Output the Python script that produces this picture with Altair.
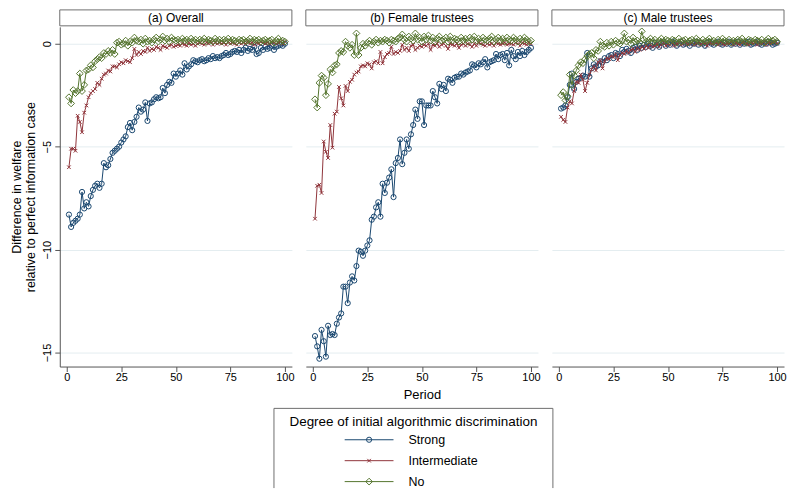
import altair as alt
import pandas as pd

FONT = "Liberation Sans"

periods = list(range(1, 101))
series_names = ["Strong", "Intermediate", "No"]
panel_keys = ["overall", "female", "male"]
panel_titles = ["(a) Overall", "(b) Female trustees", "(c) Male trustees"]
x_ticks = [0, 25, 50, 75, 100]
y_ticks = [0, -5, -10, -15]

overall_strong = [
    -8.3, -8.9, -8.7, -8.6, -8.5, -8.3, -7.2, -8.0, -7.7, -7.9,
    -7.4, -7.1, -6.9, -6.8, -7.0, -6.8, -5.8, -6.0, -5.9, -5.6,
    -5.3, -5.2, -5.1, -5.0, -4.8, -4.65, -4.5, -4.05, -3.85, -4.2,
    -3.8, -3.55, -3.1, -3.3, -3.2, -2.85, -3.75, -2.9, -2.85, -2.7,
    -2.6, -2.65, -2.6, -2.15, -2.4, -2.0, -1.85, -1.9, -1.45, -1.6,
    -1.45, -1.3, -1.5, -0.95, -1.25, -1.1, -1.0, -0.8, -0.85, -0.9,
    -0.8, -0.75, -0.85, -0.8, -0.7, -0.75, -0.6, -0.7, -0.65, -0.7,
    -0.6, -0.55, -0.45, -0.55, -0.5, -0.4, -0.35, -0.4, -0.3, -0.45,
    -0.3, -0.2, -0.35, -0.25, -0.3, -0.15, -0.5, -0.45, -0.2, -0.3,
    -0.15, -0.25, -0.2, -0.1, -0.3, -0.15, -0.1, -0.05, -0.1, 0.0,
]
overall_intermediate = [
    -6.0, -5.1, -5.1, -5.2, -3.5, -3.8, -4.3, -3.35, -3.0, -2.6,
    -2.4, -2.3, -2.2, -1.9, -2.0, -1.7, -1.5, -1.45, -1.3, -1.35,
    -1.1, -1.1, -1.15, -1.0, -0.9, -0.95, -0.8, -0.85, -0.9, -0.7,
    -0.25, -0.55, -0.4, -0.5, -0.35, -0.4, -0.2, -0.35, -0.25, -0.3,
    -0.15, -0.2, -0.3, -0.1, -0.15, -0.2, -0.1, -0.05, -0.15, -0.1,
    -0.05, -0.1, 0.0, -0.05, -0.1, 0.05, -0.05, 0.0, -0.1, 0.0,
    0.05, 0.0, -0.05, 0.05, 0.0, 0.1, -0.05, 0.05, 0.0, 0.05,
    0.0, 0.05, -0.05, 0.1, 0.0, 0.05, 0.0, -0.05, 0.05, 0.0,
    0.05, 0.0, 0.1, 0.0, 0.05, -0.05, 0.05, 0.0, 0.1, 0.05,
    0.0, 0.05, 0.0, 0.1, 0.05, 0.0, 0.05, 0.1, 0.0, 0.1,
]
overall_no = [
    -2.6, -2.9, -2.25, -2.4, -2.3, -1.45, -2.3, -2.0, -1.3, -1.25,
    -1.05, -1.15, -0.85, -0.75, -0.65, -0.7, -0.45, -0.5, -0.35, -0.45,
    -0.3, -0.5, 0.05, 0.1, -0.05, 0.0, 0.15, -0.1, 0.1, 0.05,
    0.3, 0.15, 0.1, 0.2, 0.0, 0.25, 0.1, 0.15, 0.05, 0.2,
    0.3, 0.1, 0.2, 0.35, 0.15, 0.25, 0.1, 0.3, 0.2, 0.15,
    0.2, 0.1, 0.25, 0.15, 0.2, 0.1, 0.25, 0.15, 0.2, 0.1,
    0.2, 0.15, 0.25, 0.1, 0.2, 0.15, 0.1, 0.25, 0.15, 0.2,
    0.1, 0.2, 0.15, 0.25, 0.1, 0.2, 0.15, 0.1, 0.2, 0.15,
    0.2, 0.1, 0.15, 0.25, 0.1, 0.2, 0.15, 0.2, 0.1, 0.15,
    0.2, 0.1, 0.15, 0.2, 0.05, 0.15, 0.25, 0.1, 0.15, 0.1,
]
female_strong = [
    -14.2, -14.7, -15.3, -13.9, -14.45, -15.2, -13.7, -14.15, -14.1, -14.15,
    -13.6, -13.3, -13.1, -11.8, -11.8, -12.6, -11.6, -11.3, -11.5, -10.8,
    -10.05, -10.1, -10.3, -10.05, -9.8, -9.55, -8.55, -8.4, -7.95, -7.7,
    -8.4, -6.8, -7.25, -6.75, -6.5, -6.1, -7.45, -5.8, -5.55, -4.65,
    -5.85, -5.3, -4.65, -5.1, -4.4, -3.95, -3.2, -3.65, -2.8, -2.8,
    -3.95, -3.0, -3.0, -3.0, -2.3, -2.6, -2.9, -1.95, -2.2, -2.0,
    -2.3, -1.7, -1.75, -1.9, -1.65, -1.6, -1.6, -1.45, -1.5, -1.4,
    -1.35, -1.3, -1.0, -1.05, -1.15, -0.95, -1.0, -0.9, -0.75, -1.15,
    -0.9, -0.85, -0.8, -0.5, -0.75, -0.55, -0.5, -0.8, -0.45, -1.05,
    -0.3, -0.6, -0.75, -0.4, -0.6, -0.35, -0.55, -0.4, -0.3, -0.2,
]
female_intermediate = [
    -8.5, -6.9, -6.85, -7.25, -4.75, -5.25, -5.55, -3.95, -5.05, -3.4,
    -3.3, -2.1, -2.65, -3.0, -2.05, -2.3, -1.85, -1.75, -1.5, -1.4,
    -1.35, -1.1, -1.05, -1.1, -0.95, -1.0, -1.2, -0.9, -0.85, -0.95,
    -0.4, -0.95, -0.65, -0.5, -0.45, -0.15, -0.5, -0.4, -0.45, -0.35,
    -0.05, -0.3, -0.2, -0.35, -0.1, -0.05, -0.3, -0.2, -0.1, -0.15,
    -0.05, -0.1, 0.0, -0.3, -0.05, -0.1, 0.0, -0.15, -0.05, 0.0,
    -0.1, -0.25, 0.0, -0.05, -0.1, 0.0, -0.2, -0.05, 0.0, -0.1,
    0.0, -0.05, -0.15, 0.0, -0.1, 0.05, 0.0, -0.05, -0.1, 0.0,
    -0.05, 0.0, -0.1, 0.05, 0.0, -0.05, 0.0, 0.05, -0.05, 0.0,
    0.0, -0.05, 0.05, 0.0, -0.1, 0.05, 0.0, -0.05, 0.05, 0.0,
]
female_no = [
    -2.7, -3.1, -1.9, -1.55, -1.65, -2.5, -1.95, -1.25, -1.4, -1.05,
    -1.0, -0.45, -0.35, -0.4, 0.1, -0.1, -0.2, -0.05, -0.55, 0.5,
    -0.55, -0.2, 0.0, -0.1, 0.05, 0.15, -0.05, 0.1, 0.2, 0.05,
    0.15, 0.1, 0.2, 0.15, 0.05, 0.2, 0.15, 0.1, 0.25, 0.3,
    0.45, 0.2, 0.1, 0.35, 0.25, 0.15, 0.5, 0.2, 0.3, 0.1,
    0.35, 0.2, 0.4, 0.15, 0.3, 0.1, 0.25, 0.35, 0.15, 0.2,
    0.3, 0.1, 0.35, 0.15, 0.25, 0.2, 0.1, 0.3, 0.15, 0.25,
    0.1, 0.3, 0.2, 0.35, 0.15, 0.25, 0.1, 0.3, 0.2, 0.15,
    0.25, 0.35, 0.1, 0.2, 0.3, 0.15, 0.25, 0.1, 0.3, 0.2,
    0.15, 0.3, 0.2, 0.1, 0.25, 0.15, 0.3, 0.2, 0.1, 0.15,
]
male_strong = [
    -3.15, -3.1, -3.0, -2.6, -2.0, -1.45, -2.2, -1.85, -1.7, -1.65,
    -1.55, -1.6, -0.45, -1.6, -1.2, -1.0, -1.1, -1.05, -0.85, -0.9,
    -0.7, -0.8, -0.6, -0.55, -0.7, -0.45, -0.5, -0.6, -0.3, -0.4,
    -0.25, -0.35, -0.45, -0.2, -0.15, -0.3, -0.1, -0.2, -0.05, -0.15,
    0.0, -0.1, -0.2, 0.05, -0.05, -0.15, 0.05, 0.1, -0.1, 0.0,
    -0.05, 0.1, 0.05, -0.1, 0.0, 0.1, -0.05, 0.0, 0.05, -0.1,
    0.05, 0.0, 0.1, -0.05, 0.05, 0.0, -0.1, 0.05, 0.1, 0.0,
    -0.05, 0.05, 0.1, 0.0, -0.05, 0.05, 0.0, 0.1, -0.05, 0.05,
    0.0, 0.1, -0.05, 0.05, 0.0, 0.05, 0.1, -0.05, 0.0, 0.05,
    0.1, 0.0, -0.05, 0.05, 0.0, 0.1, 0.05, -0.05, 0.0, 0.05,
]
male_intermediate = [
    -3.55, -3.7, -3.8, -3.1, -2.8, -2.9, -2.3, -1.85, -1.9, -1.5,
    -1.75, -2.3, -1.9, -1.5, -1.25, -1.1, -1.3, -0.9, -0.8, -1.2,
    -0.85, -0.7, -0.75, -0.6, -0.65, -0.5, -0.8, -0.55, -0.45, -0.5,
    -0.35, -0.45, -0.3, -0.25, -0.4, -0.2, -0.3, -0.15, -0.25, -0.1,
    -0.2, -0.05, -0.15, -0.1, 0.0, -0.15, -0.05, 0.05, -0.1, 0.0,
    -0.05, 0.05, -0.1, 0.0, 0.05, -0.05, 0.0, 0.1, -0.05, 0.0,
    0.05, -0.05, 0.0, 0.1, -0.05, 0.05, 0.0, -0.1, 0.05, 0.0,
    0.0, 0.05, -0.05, 0.1, 0.0, -0.05, 0.05, 0.0, 0.1, -0.05,
    0.05, 0.0, -0.05, 0.05, 0.1, 0.0, -0.05, 0.05, 0.0, 0.1,
    -0.05, 0.05, 0.0, 0.1, -0.05, 0.05, 0.0, 0.05, 0.1, 0.0,
]
male_no = [
    -2.5, -2.35, -2.75, -2.55, -1.5, -2.0, -1.55, -1.3, -1.05, -0.9,
    -0.95, -0.75, -0.6, -0.5, -0.45, -0.7, -0.3, -0.35, 0.1, -0.1,
    -0.15, 0.05, -0.1, 0.1, -0.05, 0.15, 0.05, 0.0, 0.15, 0.5,
    0.1, 0.2, 0.0, 0.3, 0.1, 0.15, 0.05, 0.6, 0.2, 0.1,
    0.15, 0.25, 0.1, 0.2, 0.05, 0.15, 0.25, 0.1, 0.2, 0.15,
    0.1, 0.2, 0.15, 0.05, 0.25, 0.1, 0.15, 0.2, 0.05, 0.15,
    0.2, 0.1, 0.25, 0.15, 0.05, 0.2, 0.1, 0.15, 0.25, 0.1,
    0.15, 0.05, 0.2, 0.1, 0.25, 0.15, 0.1, 0.2, 0.05, 0.15,
    0.1, 0.2, 0.15, 0.25, 0.1, 0.05, 0.2, 0.15, 0.1, 0.2,
    0.15, 0.1, 0.2, 0.05, 0.15, 0.25, 0.1, 0.15, 0.2, 0.1,
]

series_values = {
    ("overall", "Strong"): overall_strong,
    ("overall", "Intermediate"): overall_intermediate,
    ("overall", "No"): overall_no,
    ("female", "Strong"): female_strong,
    ("female", "Intermediate"): female_intermediate,
    ("female", "No"): female_no,
    ("male", "Strong"): male_strong,
    ("male", "Intermediate"): male_intermediate,
    ("male", "No"): male_no,
}

rows = []
for (pk, sn), vals in series_values.items():
    for p, v in zip(periods, vals):
        rows.append({"panel": pk, "series": sn, "period": p, "value": v})
df = pd.DataFrame(rows)

# Stata s2color-like styling
colors = {"Strong": "#1a476f", "Intermediate": "#90353b", "No": "#55752f"}
shapes = {"Strong": "circle", "Intermediate": "M-1,-1L1,1M1,-1L-1,1", "No": "diamond"}
sizes = {"Strong": 27, "Intermediate": 13, "No": 46}

W, H = 233, 341
X_DOM = [-3.2, 103.2]
Y_DOM = [-15.68, 0.82]
AXIS_COLOR = "#555555"
GRID_COLOR = "#e4edf0"


def panel(idx):
    key = panel_keys[idx]
    first = idx == 0
    d = df[df.panel == key]

    x_axis = alt.Axis(
        values=x_ticks, grid=False, tickSize=5, labelPadding=0,
        labelFontSize=11, domainColor=AXIS_COLOR, tickColor=AXIS_COLOR,
        title="Period" if idx == 1 else None, titleFontSize=13,
        titleFontWeight="normal", titlePadding=6,
    )
    if first:
        y_axis = alt.Axis(
            values=y_ticks, grid=True, gridColor=GRID_COLOR, tickSize=5,
            labelAngle=270, labelAlign="center", labelBaseline="bottom",
            labelPadding=2, labelFontSize=11,
            domainColor=AXIS_COLOR, tickColor=AXIS_COLOR,
            title=["Difference in welfare", "relative to perfect information case"],
            titleFontSize=12.5, titleFontWeight="normal", titlePadding=4,
            titleLineHeight=14,
        )
    else:
        y_axis = alt.Axis(
            values=y_ticks, grid=True, gridColor=GRID_COLOR, labels=False,
            ticks=False, domain=False, title=None,
        )

    x_enc = alt.X("period:Q", scale=alt.Scale(domain=X_DOM, nice=False, zero=False), axis=x_axis)
    y_enc = alt.Y("value:Q", scale=alt.Scale(domain=Y_DOM, nice=False, zero=False), axis=y_axis)

    layers = []
    for s in series_names:
        base = alt.Chart(d[d.series == s]).encode(x=x_enc, y=y_enc, order="period:Q")
        layers.append(base.mark_line(color=colors[s], strokeWidth=1))
        layers.append(base.mark_point(shape=shapes[s], size=sizes[s], color=colors[s],
                                      filled=False, strokeWidth=1, opacity=1))

    # strip header box above the plot
    hdr = alt.Chart(pd.DataFrame({"t": [panel_titles[idx]]}))
    layers.append(hdr.mark_rect(fill="white", stroke="#6e6e6e", strokeWidth=1).encode(
        x=alt.value(0), x2=alt.value(W), y=alt.value(-17), y2=alt.value(-1)))
    layers.append(hdr.mark_text(font=FONT, fontSize=12, color="black").encode(
        x=alt.value(W / 2), y=alt.value(-8.5), text="t:N"))

    if idx == 1:
        layers.extend(legend_layers())

    return alt.layer(*layers).properties(width=W, height=H)


def legend_layers():
    out = []
    box_l, box_r, box_t, box_b = -32, 248, 383, 463
    frame = alt.Chart(pd.DataFrame({"k": [0]}))
    out.append(frame.mark_rule(color="#6e6e6e", strokeWidth=1).encode(
        x=alt.value(box_l), x2=alt.value(box_r), y=alt.value(box_t)))
    out.append(frame.mark_rule(color="#6e6e6e", strokeWidth=1).encode(
        x=alt.value(box_l), y=alt.value(box_t), y2=alt.value(box_b)))
    out.append(frame.mark_rule(color="#6e6e6e", strokeWidth=1).encode(
        x=alt.value(box_r), y=alt.value(box_t), y2=alt.value(box_b)))
    ttl = alt.Chart(pd.DataFrame({"t": ["Degree of initial algorithmic discrimination"]}))
    out.append(ttl.mark_text(font=FONT, fontSize=13.5, color="black").encode(
        x=alt.value((box_l + box_r) / 2), y=alt.value(397), text="t:N"))
    for i, s in enumerate(series_names):
        yy = 414.5 + 21 * i
        row = alt.Chart(pd.DataFrame({"t": [s]}))
        out.append(row.mark_rule(color=colors[s], strokeWidth=1).encode(
            x=alt.value(39), x2=alt.value(88), y=alt.value(yy)))
        out.append(row.mark_point(shape=shapes[s], size=sizes[s], color=colors[s],
                                  filled=False, strokeWidth=1, opacity=1).encode(
            x=alt.value(63.5), y=alt.value(yy)))
        out.append(row.mark_text(font=FONT, fontSize=12.5, color="black", align="left").encode(
            x=alt.value(103), y=alt.value(yy), text="t:N"))
    return out


chart = alt.hconcat(panel(0), panel(1), panel(2), spacing=14, bounds="flush").properties(
    padding={"left": 11, "top": 8, "right": 0, "bottom": 0},
    background="white",
).configure_view(stroke=None).configure_axis(
    labelFont=FONT, titleFont=FONT, labelColor="black", titleColor="black",
)

chart.save("out.html", embed_options={"renderer": "svg", "actions": False})
